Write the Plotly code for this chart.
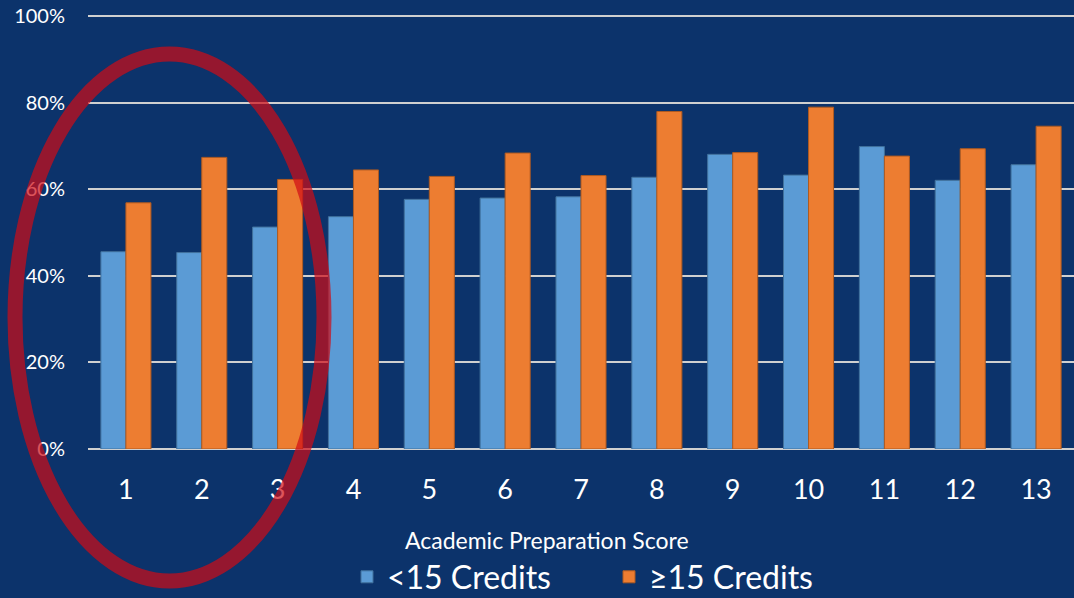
import plotly.graph_objects as go

# --------------------------
# Datos
# --------------------------
scores = ["1", "2", "3", "4", "5", "6", "7", "8", "9", "10", "11", "12", "13"]
under_15 = [0.456, 0.454, 0.513, 0.537, 0.577, 0.580, 0.583, 0.628, 0.681, 0.633, 0.699, 0.621, 0.657]
over_15 = [0.569, 0.674, 0.623, 0.645, 0.630, 0.684, 0.632, 0.780, 0.685, 0.790, 0.677, 0.694, 0.746]
y_ticks = [0, 0.2, 0.4, 0.6, 0.8, 1.0]
y_tick_labels = ["0%", "20%", "40%", "60%", "80%", "100%"]

BG = "#0c336b"
FONT = "Lato"

fig = go.Figure()
fig.add_trace(go.Bar(
    x=scores, y=under_15, name="<15 Credits",
    marker=dict(color="#5b9bd5", line=dict(color="#41719c", width=1)),
))
fig.add_trace(go.Bar(
    x=scores, y=over_15, name="≥15 Credits",
    marker=dict(color="#ed7d31", line=dict(color="#ae5a21", width=1)),
))

# --------------------------
# Elipse resaltando 1-3
# --------------------------
H = 437  # alto del área de trazado en px
def py(pix):
    return (449 - pix) / H

fig.add_shape(
    type="circle", xref="paper", yref="paper",
    x0=(15 - 88) / 986, x1=(324 - 88) / 986,
    y0=py(581), y1=py(54),
    line=dict(color="rgb(208,12,22)", width=15),
    opacity=0.7, layer="above",
)

# Título del eje x
fig.add_annotation(
    text="Academic Preparation Score", xref="paper", yref="paper",
    x=(547 - 88) / 986, y=py(540),
    showarrow=False, font=dict(family=FONT, size=23, color="white"),
    xanchor="center", yanchor="middle",
)

fig.update_layout(
    width=1074, height=598,
    paper_bgcolor=BG, plot_bgcolor=BG,
    margin=dict(l=88, r=0, t=12, b=149),
    barmode="group", bargap=0.34, bargroupgap=0,
    font=dict(family=FONT, color="white"),
    showlegend=True,
    legend=dict(
        orientation="h", xref="paper", yref="container",
        x=(347 - 88) / 986, y=(598 - 577) / 598,
        xanchor="left", yanchor="middle",
        font=dict(family=FONT, size=32, color="white"),
        bgcolor="rgba(0,0,0,0)", entrywidth=217,
    ),
    xaxis=dict(
        tickfont=dict(family=FONT, size=27, color="white"),
        showgrid=False, ticks="", ticklabelstandoff=22,
    ),
    yaxis=dict(
        range=[0, 1.01], tickvals=y_ticks, ticktext=y_tick_labels,
        tickfont=dict(family=FONT, size=20, color="white"),
        showgrid=True, gridcolor="#d0d0d0", gridwidth=1.5,
        zeroline=True, zerolinecolor="#d0d0d0", zerolinewidth=2,
        ticks="", ticklabelstandoff=22,
    ),
)

fig.write_html(
    "out.html",
    config={"displayModeBar": False},
    post_script="document.body.style.margin='0';document.body.style.background='%s';" % BG,
)
